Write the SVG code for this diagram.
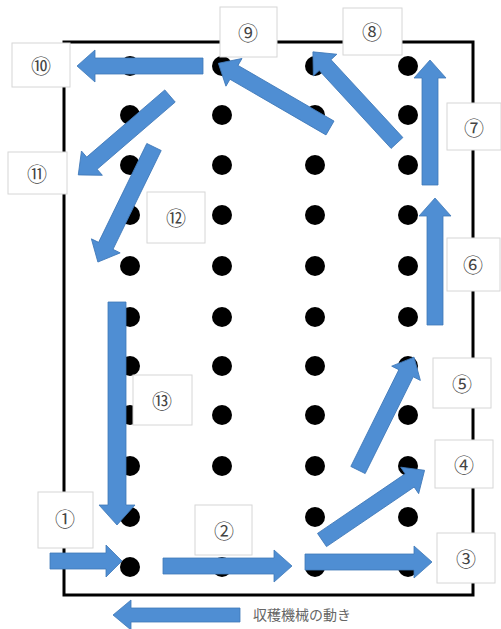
<svg xmlns="http://www.w3.org/2000/svg" width="501" height="629" viewBox="0 0 501 629">
<style>
.dot{fill:#000}
.arw{fill:#4f8ed3;stroke:#3f78b8;stroke-width:0.8}
.lbl rect{fill:#fff;stroke:#d6d6d6;stroke-width:1}
.lbl text{font-family:"Noto Sans CJK JP","DejaVu Sans",sans-serif;font-size:20px;fill:#444;text-anchor:middle;dominant-baseline:central}
</style>
<rect width="501" height="629" fill="#fff"/>
<rect id="field" x="64" y="42" width="409" height="553" fill="none" stroke="#000" stroke-width="3"/>
<g id="plants">
<g id="col1"><circle class="dot" cx="130" cy="66" r="10"/><circle class="dot" cx="130" cy="115" r="10"/><circle class="dot" cx="130" cy="165" r="10"/><circle class="dot" cx="130" cy="215" r="10"/><circle class="dot" cx="130" cy="266" r="10"/><circle class="dot" cx="130" cy="317" r="10"/><circle class="dot" cx="130" cy="366" r="10"/><circle class="dot" cx="130" cy="415" r="10"/><circle class="dot" cx="130" cy="466" r="10"/><circle class="dot" cx="130" cy="517" r="10"/><circle class="dot" cx="130" cy="567" r="10"/></g>
<g id="col2"><circle class="dot" cx="222" cy="66" r="10"/><circle class="dot" cx="222" cy="115" r="10"/><circle class="dot" cx="222" cy="165" r="10"/><circle class="dot" cx="222" cy="215" r="10"/><circle class="dot" cx="222" cy="266" r="10"/><circle class="dot" cx="222" cy="317" r="10"/><circle class="dot" cx="222" cy="366" r="10"/><circle class="dot" cx="222" cy="415" r="10"/><circle class="dot" cx="222" cy="466" r="10"/><circle class="dot" cx="222" cy="517" r="10"/><circle class="dot" cx="222" cy="567" r="10"/></g>
<g id="col3"><circle class="dot" cx="315" cy="66" r="10"/><circle class="dot" cx="315" cy="115" r="10"/><circle class="dot" cx="315" cy="165" r="10"/><circle class="dot" cx="315" cy="215" r="10"/><circle class="dot" cx="315" cy="266" r="10"/><circle class="dot" cx="315" cy="317" r="10"/><circle class="dot" cx="315" cy="366" r="10"/><circle class="dot" cx="315" cy="415" r="10"/><circle class="dot" cx="315" cy="466" r="10"/><circle class="dot" cx="315" cy="517" r="10"/><circle class="dot" cx="315" cy="567" r="10"/></g>
<g id="col4"><circle class="dot" cx="408" cy="66" r="10"/><circle class="dot" cx="408" cy="115" r="10"/><circle class="dot" cx="408" cy="165" r="10"/><circle class="dot" cx="408" cy="215" r="10"/><circle class="dot" cx="408" cy="266" r="10"/><circle class="dot" cx="408" cy="317" r="10"/><circle class="dot" cx="408" cy="366" r="10"/><circle class="dot" cx="408" cy="415" r="10"/><circle class="dot" cx="408" cy="466" r="10"/><circle class="dot" cx="408" cy="517" r="10"/><circle class="dot" cx="408" cy="567" r="10"/></g>
</g>
<g id="connectors">
<path id="a1" class="arw" transform="translate(50,561)" d="M0,-8 H56 V-16 L72,0 L56,16 V8 H0 Z"/>
<path id="a2" class="arw" transform="translate(163,566)" d="M0,-8 H111 V-16 L129,0 L111,16 V8 H0 Z"/>
<path id="a3" class="arw" transform="translate(305,562)" d="M0,-8 H109 V-16 L127,0 L109,16 V8 H0 Z"/>
<path id="a4" class="arw" transform="translate(322,540) rotate(-34.2)" d="M0,-8 H106 V-16 L124,0 L106,16 V8 H0 Z"/>
<path id="a5" class="arw" transform="translate(358,470) rotate(-63.6)" d="M0,-8 H108 V-16 L126,0 L108,16 V8 H0 Z"/>
<path id="a6" class="arw" transform="translate(435,325) rotate(-90)" d="M0,-8 H109 V-16 L127,0 L109,16 V8 H0 Z"/>
<path id="a7" class="arw" transform="translate(430,185) rotate(-90)" d="M0,-8 H107 V-16 L125,0 L107,16 V8 H0 Z"/>
<path id="a8" class="arw" transform="translate(397,143) rotate(-132.7)" d="M0,-8 H106 V-16 L124,0 L106,16 V8 H0 Z"/>
<path id="a9" class="arw" transform="translate(330,128) rotate(-149.9)" d="M0,-8 H111 V-16 L129,0 L111,16 V8 H0 Z"/>
<path id="a10" class="arw" transform="translate(203,66) rotate(180)" d="M0,-8 H108 V-16 L126,0 L108,16 V8 H0 Z"/>
<path id="a11" class="arw" transform="translate(170,96) rotate(139.3)" d="M0,-8 H103 V-16 L121,0 L103,16 V8 H0 Z"/>
<path id="a12" class="arw" transform="translate(154,147) rotate(116)" d="M0,-8 H110 V-16 L128,0 L110,16 V8 H0 Z"/>
<path id="a13" class="arw" transform="translate(117,302) rotate(90)" d="M0,-9 H203 V-18 L223,0 L203,18 V9 H0 Z"/>
</g>
<g id="l9" class="lbl"><rect x="220" y="7" width="57" height="50"/><text x="248" y="32">⑨</text></g>
<g id="l8" class="lbl"><rect x="343" y="8" width="59" height="47"/><text x="372" y="31">⑧</text></g>
<g id="l10" class="lbl"><rect x="12" y="43" width="58" height="44"/><text x="41" y="65">⑩</text></g>
<g id="l11" class="lbl"><rect x="8" y="152" width="59" height="42"/><text x="37" y="173">⑪</text></g>
<g id="l12" class="lbl"><rect x="147" y="192" width="58" height="51"/><text x="176" y="217">⑫</text></g>
<g id="l13" class="lbl"><rect x="133" y="375" width="59" height="50"/><text x="162" y="400">⑬</text></g>
<g id="l7" class="lbl"><rect x="447" y="103" width="54" height="47"/><text x="474" y="127">⑦</text></g>
<g id="l6" class="lbl"><rect x="447" y="238" width="53" height="53"/><text x="473" y="264">⑥</text></g>
<g id="l5" class="lbl"><rect x="433" y="358" width="58" height="50"/><text x="462" y="383">⑤</text></g>
<g id="l4" class="lbl"><rect x="435" y="440" width="58" height="48"/><text x="464" y="464">④</text></g>
<g id="l3" class="lbl"><rect x="437" y="533" width="58" height="50"/><text x="466" y="558">③</text></g>
<g id="l1" class="lbl"><rect x="38" y="492" width="55" height="56"/><text x="65" y="518">①</text></g>
<g id="l2" class="lbl"><rect x="195" y="505" width="57" height="50"/><text x="224" y="530">②</text></g>
<g id="legend">
<path class="arw" transform="translate(240,615) rotate(180)" d="M0,-7 H109 V-15 L127,0 L109,15 V7 H0 Z"/>
<text x="253" y="614" font-family="'Noto Sans CJK JP','DejaVu Sans',sans-serif" font-size="14" fill="#666" dominant-baseline="central">収穫機械の動き</text>
</g>
</svg>
